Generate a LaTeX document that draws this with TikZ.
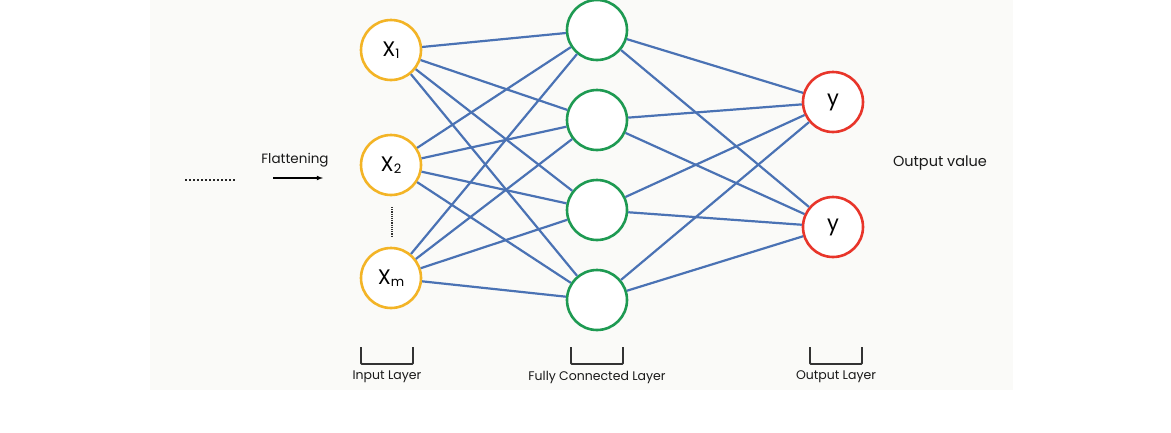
\documentclass[tikz,border=0pt]{standalone}
\usepackage{fontspec}
\setmainfont{Poppins}
\usetikzlibrary{arrows}
\definecolor{bgray}{HTML}{FAFAF8}
\definecolor{inyel}{HTML}{F3B426}
\definecolor{fcgreen}{HTML}{1E9A52}
\definecolor{outred}{HTML}{E8352A}
\definecolor{wire}{HTML}{4A72B4}
\tikzset{
	neuron/.style = {circle, draw, fill=white, line width=2.6pt,
		minimum size=60pt, inner sep=0pt, font=\fontsize{21}{21}\selectfont},
	n_in/.style = {neuron, draw=inyel},% couche d'entree
	n_fc/.style = {neuron, draw=fcgreen},% couche cachee
	n_out/.style = {neuron, draw=outred},% couche de sortie
	wire/.style = {draw=wire, line width=2.2pt},
	brk/.style = {draw=black!80, line width=1.8pt, rounded corners=1pt},
	lbl/.style = {font=\fontsize{12.5}{12.5}\selectfont, text=black!90}
}
\newcommand{\sub}[1]{{\fontsize{13}{13}\selectfont\raisebox{-2pt}{#1}}}
\begin{document}
\begin{tikzpicture}[x=1pt,y=-1pt]
	\useasboundingbox[fill=white] (0,0) rectangle (1171,432);
	\fill[bgray] (150,0) rectangle (1013,390);
	% couches
	\node[n_in] (in1) at (391,50) {X\sub{1}};
	\node[n_in] (in2) at (391,165) {X\sub{2}};
	\node[n_in] (in3) at (391,278) {X\sub{m}};
	\foreach \i/\y in {1/30,2/120,3/210,4/300}
		\node[n_fc] (fc\i) at (597,\y) {};
	\node[n_out] (out1) at (833,102) {y};
	\node[n_out] (out2) at (833,227) {y};
	% connexions
	\foreach \i in {1,2,3}
		\foreach \j in {1,2,3,4}
			\draw[wire] (in\i) -- (fc\j);
	\foreach \j in {1,2,3,4}
		\foreach \k in {1,2}
			\draw[wire] (fc\j) -- (out\k);
	% aplatissement
	\coordinate (d1) at (185,180);
	\coordinate (d2) at (235,180);
	\draw[line width=2pt, dotted, black!85] (d1) -- (d2);
	\coordinate (v1) at (392,207);
	\coordinate (v2) at (392,236);
	\draw[line width=1.2pt, densely dotted, black!80] (v1) -- (v2);
	\coordinate (a1) at (273,178);
	\coordinate (a2) at (323,178);
	\draw[->, >=latex, line width=1.1pt] (a1) -- (a2);
	\node[font=\fontsize{13.5}{13.5}\selectfont, text=black!90] (flat) at (295,160) {Flattening};
	\node[font=\fontsize{14.5}{14.5}\selectfont, text=black!90] (outval) at (940,163) {Output value};
	% accolades
	\foreach \x/\n/\t in {387/inl/Input Layer,597/fcl/Fully Connected Layer,836/outl/Output Layer}{
		\draw[brk] (\x-26,347) -- (\x-26,364) -- (\x+26,364) -- (\x+26,347);
		\node[lbl] (\n) at (\x,377) {\t};
	}
\end{tikzpicture}
\end{document}
